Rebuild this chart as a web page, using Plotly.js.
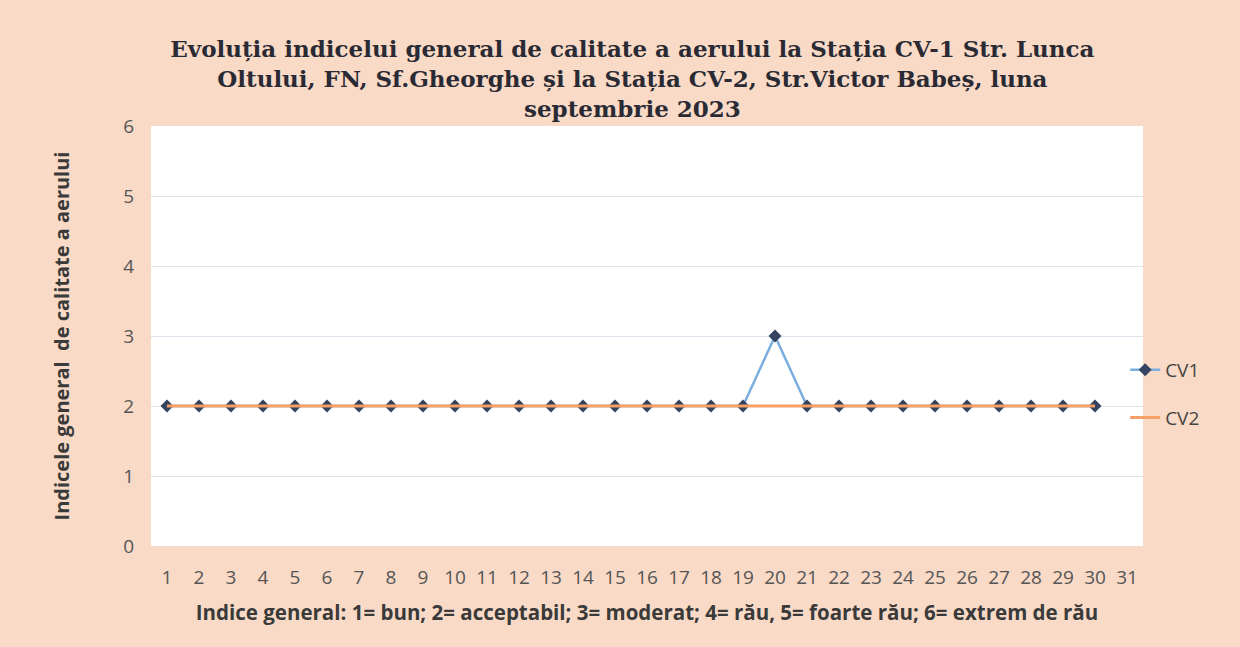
<!DOCTYPE html>
<html><head><meta charset="utf-8">
<script src="https://cdn.plot.ly/plotly-3.0.1.min.js"></script>
<style>html,body{margin:0;padding:0;background:#f9dac6;}</style>
</head><body>
<div id="chart" style="width:1240px;height:647px;"></div>
<script>
const days = Array.from({length:30},(_,i)=>i+1);
const cv1 = [2,2,2,2,2,2,2,2,2,2,2,2,2,2,2,2,2,2,2,3,2,2,2,2,2,2,2,2,2,2];
const cv2 = [2,2,2,2,2,2,2,2,2,2,2,2,2,2,2,2,2,2,2,2,2,2,2,2,2,2,2,2,2,2];
const xTicks = Array.from({length:31},(_,i)=>i+1);
const yTicks = [0,1,2,3,4,5,6];

const traces = [
  {x:days, y:cv1, name:'CV1', type:'scatter', mode:'lines+markers', legendgroup:'a',
   line:{color:'#7aaee0', width:2.5},
   marker:{symbol:'diamond', size:10, color:'#34435f'}},
  {x:days, y:cv2, name:'CV2', type:'scatter', mode:'lines', legendgroup:'b',
   line:{color:'#f7a066', width:3}}
];
const layout = {
  width:1240, height:647,
  paper_bgcolor:'#f9dac6', plot_bgcolor:'#ffffff',
  margin:{l:151, r:97, t:126, b:101},
  title:{text:'Evoluția indicelui general de calitate a aerului la Stația CV-1 Str. Lunca<br>Oltului, FN, Sf.Gheorghe și la Stația CV-2, Str.Victor Babeș, luna<br>septembrie 2023',
    font:{family:'DejaVu Serif, serif', size:23, color:'#2a2a35', weight:'bold'},
    x:0.51, xanchor:'center', y:0.912, yanchor:'top'},
  xaxis:{range:[0.5,31.5], tickvals:xTicks, ticktext:xTicks.map(String),
    showgrid:false, zeroline:false, showline:false, ticks:'', ticklabelstandoff:18,
    tickfont:{family:'Open Sans, sans-serif', size:19, color:'#555555'},
    title:{text:'Indice general: 1= bun; 2= acceptabil; 3= moderat; 4= rău, 5= foarte rău; 6= extrem de rău',
      font:{family:'Open Sans, sans-serif', size:20.5, color:'#3a3a3a', weight:'bold'}, standoff:16}},
  yaxis:{range:[0,6], tickvals:yTicks, showgrid:true, gridcolor:'#dde3ec', gridwidth:1,
    zeroline:false, showline:false, ticks:'', ticklabelstandoff:16,
    tickfont:{family:'Open Sans, sans-serif', size:19, color:'#555555'},
    title:{text:'Indicele general  de calitate a aerului',
      font:{family:'Open Sans, sans-serif', size:20, color:'#3a3a3a', weight:'bold'}, standoff:48}},
  showlegend:true,
  legend:{x:0.982, xanchor:'left', y:0.362, yanchor:'middle', traceorder:'grouped',
    bgcolor:'rgba(0,0,0,0)', font:{family:'Open Sans, sans-serif', size:19, color:'#444444'},
    tracegroupgap:20}
};
Plotly.newPlot('chart', traces, layout, {displayModeBar:false});
</script>
</body></html>
